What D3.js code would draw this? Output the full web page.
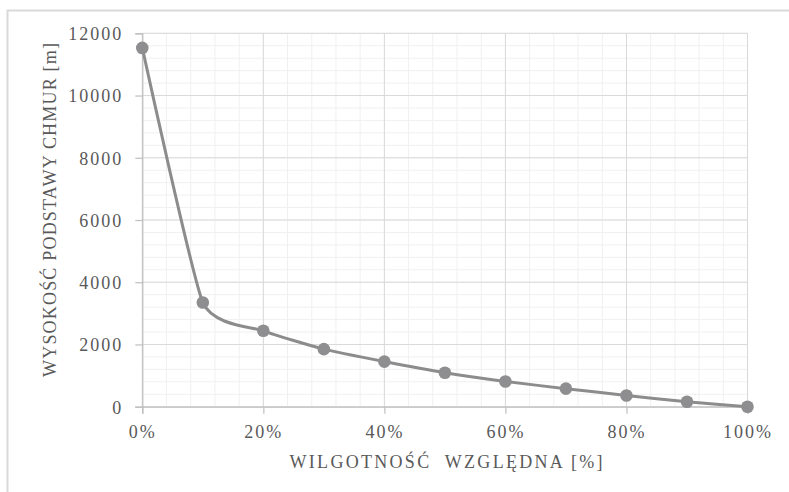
<!DOCTYPE html>
<html><head><meta charset="utf-8">
<script src="https://cdn.jsdelivr.net/npm/d3@7"></script>
<style>
body{margin:0;background:#fff;}
svg text{font-family:"Liberation Serif","Times New Roman",serif;fill:#595959;}
</style></head>
<body>
<svg id="c" width="789" height="492"></svg>
<script>
const humidity = [0, 10, 20, 30, 40, 50, 60, 70, 80, 90, 100];
const cloudBase = [11530, 3350, 2440, 1850, 1450, 1090, 810, 580, 360, 160, 0];
const yTicks = [0, 2000, 4000, 6000, 8000, 10000, 12000];
const xTicks = [0, 20, 40, 60, 80, 100];
const xTitle = "WILGOTNOŚĆ  WZGLĘDNA [%]";
const yTitle = "WYSOKOŚĆ PODSTAWY CHMUR [m]";

const svg = d3.select("#c");
const m = {l:142.3, r:747.5, t:33.3, b:406.7};
const x = d3.scaleLinear().domain([0,100]).range([m.l, m.r]);
const y = d3.scaleLinear().domain([0,12000]).range([m.b, m.t]);

// outer frame
svg.append("path").attr("d", `M7.5,492 V10.5 H789`).attr("fill","none").attr("stroke","#d9d9d9").attr("stroke-width",2);

// minor grid
const g = svg.append("g");
g.selectAll("line.mx").data(d3.range(0,101,4)).join("line")
  .attr("x1",d=>x(d)).attr("x2",d=>x(d)).attr("y1",m.t).attr("y2",m.b)
  .attr("stroke","#f0f0f0").attr("stroke-width",1);
g.selectAll("line.my").data(d3.range(0,12001,400)).join("line")
  .attr("y1",d=>y(d)).attr("y2",d=>y(d)).attr("x1",m.l).attr("x2",m.r)
  .attr("stroke","#f0f0f0").attr("stroke-width",1);
// major grid
g.selectAll("line.Mx").data(xTicks).join("line")
  .attr("x1",d=>x(d)).attr("x2",d=>x(d)).attr("y1",m.t).attr("y2",m.b)
  .attr("stroke","#d9d9d9").attr("stroke-width",1);
g.selectAll("line.My").data(yTicks).join("line")
  .attr("y1",d=>y(d)).attr("y2",d=>y(d)).attr("x1",m.l).attr("x2",m.r)
  .attr("stroke","#d9d9d9").attr("stroke-width",1);

// axes
const ya = svg.append("g").attr("transform",`translate(${m.l},0)`)
  .call(d3.axisLeft(y).tickValues(yTicks).tickSize(7).tickPadding(12).tickFormat(d3.format("d")));
const xa = svg.append("g").attr("transform",`translate(0,${m.b})`)
  .call(d3.axisBottom(x).tickValues(xTicks).tickSize(7).tickPadding(12).tickFormat(d=>d+"%"));
[ya,xa].forEach(a=>{
  a.select(".domain").attr("stroke","#bfbfbf").attr("stroke-width",1.2);
  a.selectAll(".tick line").attr("stroke","#bfbfbf").attr("stroke-width",1.2);
  a.selectAll("text").attr("font-size",18).attr("letter-spacing","2px").attr("fill","#595959")
   .attr("font-family","Liberation Serif, serif");
});
ya.selectAll("text").attr("dy","0.35em");
xa.selectAll("text").attr("dy","0.71em");

// line
const pts = humidity.map((h,i)=>[h,cloudBase[i]]);
svg.append("path").datum(pts)
  .attr("d", d3.line().x(d=>x(d[0])).y(d=>y(d[1])).curve(d3.curveCardinal.tension(0.5)))
  .attr("fill","none").attr("stroke","#8c8c8c").attr("stroke-width",3);
svg.selectAll("circle.pt").data(pts).join("circle")
  .attr("cx",d=>x(d[0])).attr("cy",d=>y(d[1])).attr("r",6.3).attr("fill","#8e8e90");

// titles
svg.append("text").attr("x",446).attr("y",468).attr("text-anchor","middle")
  .attr("font-size",18).attr("textLength",313).attr("lengthAdjust","spacing")
  .style("white-space","pre").text(xTitle);
svg.append("text").attr("transform","translate(56,210) rotate(-90)").attr("text-anchor","middle")
  .attr("font-size",18).attr("textLength",334).attr("lengthAdjust","spacing").text(yTitle);
</script>
</body></html>
